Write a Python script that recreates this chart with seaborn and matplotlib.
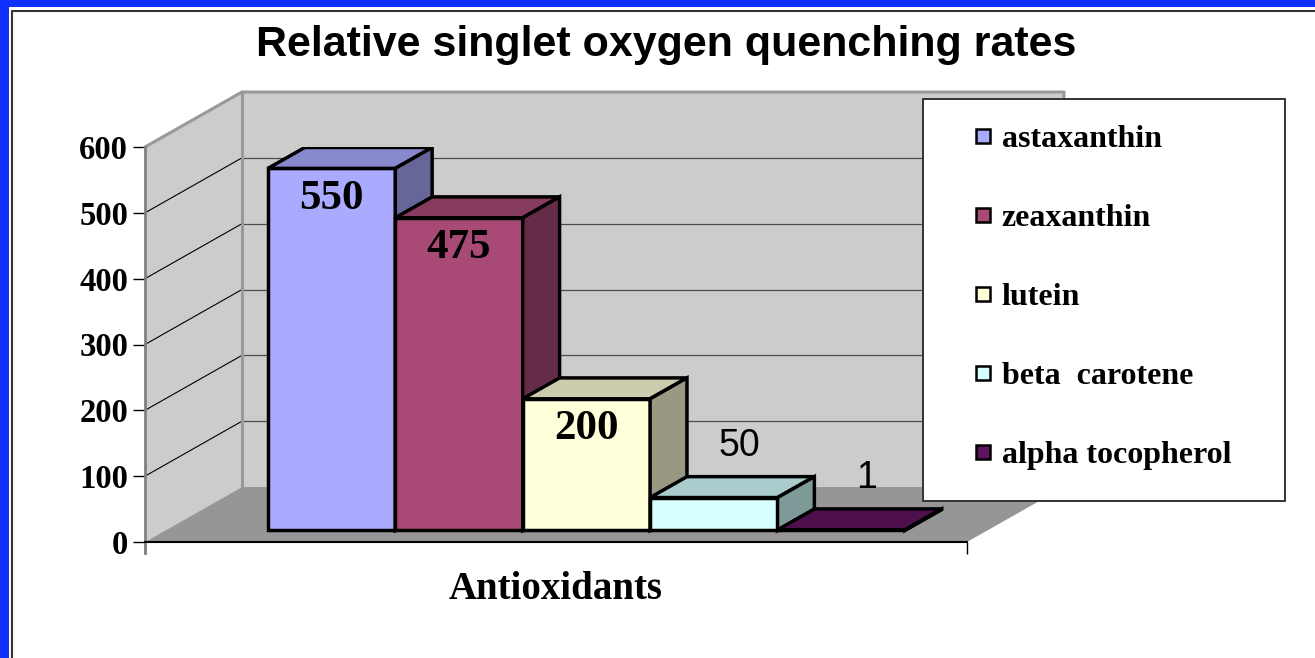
import matplotlib
matplotlib.use("Agg")
import matplotlib.pyplot as plt
import matplotlib.colors as mcolors
from matplotlib.patches import Polygon, Rectangle
from matplotlib.lines import Line2D
import seaborn as sns

# Data
antioxidants = ["astaxanthin", "zeaxanthin", "lutein", "beta  carotene", "alpha tocopherol"]
quench_rates = [550, 475, 200, 50, 1]
y_ticks = [0, 100, 200, 300, 400, 500, 600]
chart_title = "Relative singlet oxygen quenching rates"
x_title = "Antioxidants"

# Styles
front_colors = ["#AAAAFF", "#A94A76", "#FFFFDA", "#D6FFFF", "#601460"]
SERIF = "Liberation Serif"
SANS = "Liberation Sans"

W, H = 1315, 658

# 3D look: depth of the floor in data units, bars sit between D0 and D1
XMIN, XMAX = -1.305, 5.147
YMAX = 600
DX, DY = 0.761, 83.5
D0, D1 = 0.21, 0.59


def shade(color, f):
    r, g, b = mcolors.to_rgb(color)
    return (r * f, g * f, b * f)


sns.set_style("white")
plt.rcParams.update({"text.color": "black", "axes.labelcolor": "black",
                     "xtick.color": "black", "ytick.color": "black"})
fig = plt.figure(figsize=(W / 100, H / 100), dpi=100)
ax = fig.add_axes([145 / W, 1 - 542 / H, 822 / W, 395 / H])

# front faces of the bars
sns.barplot(x=antioxidants, y=quench_rates, hue=antioxidants, palette=front_colors,
            width=1.0, dodge=False, saturation=1, legend=False,
            edgecolor="black", linewidth=2.5, ax=ax)
bars = list(ax.patches)

ax.set_xlim(XMIN, XMAX)
ax.set_ylim(0, YMAX)

# walls and floor
wall = "#CCCCCC"
ax.add_patch(Polygon([(XMIN, 0), (XMIN, YMAX), (XMIN + DX, YMAX + DY), (XMIN + DX, DY)],
                     fc=wall, ec="none", zorder=0.5, clip_on=False))
ax.add_patch(Rectangle((XMIN + DX, DY), XMAX - XMIN, YMAX, fc=wall, ec="none",
                       zorder=0.5, clip_on=False))
ax.add_patch(Polygon([(XMIN, 0), (XMAX, 0), (XMAX + DX, DY), (XMIN + DX, DY)],
                     fc="#969696", ec="none", zorder=0.55, clip_on=False))
for v in y_ticks[1:-1]:
    ax.add_line(Line2D([XMIN + DX, XMAX + DX], [v + DY, v + DY], color="#4d4d4d",
                       lw=0.9, zorder=0.6, clip_on=False))
    ax.add_line(Line2D([XMIN, XMIN + DX], [v, v + DY], color="black",
                       lw=0.8, zorder=0.6, clip_on=False))
edge = "#999999"
ax.add_line(Line2D([XMIN, XMIN + DX, XMAX + DX, XMAX + DX],
                   [YMAX, YMAX + DY, YMAX + DY, DY], color=edge, lw=2.2,
                   zorder=0.7, clip_on=False))
ax.add_line(Line2D([XMIN + DX, XMIN + DX], [DY, YMAX + DY], color=edge, lw=2.2,
                   zorder=0.7, clip_on=False))

# shift bars back and add top / side faces
bx, by = (D1 - D0) * DX, (D1 - D0) * DY
for i, (p, v, c) in enumerate(zip(bars, quench_rates, front_colors)):
    p.set_x(p.get_x() + D0 * DX)
    p.set_y(p.get_y() + D0 * DY)
    p.set_zorder(2 + i)
    p.set_joinstyle("miter")
    x0, x1 = p.get_x(), p.get_x() + p.get_width()
    y0, y1 = p.get_y(), p.get_y() + p.get_height()
    top = Polygon([(x0, y1), (x1, y1), (x1 + bx, y1 + by), (x0 + bx, y1 + by)],
                  fc=shade(c, 0.8), ec="black", lw=2.5, joinstyle="miter", zorder=2 + i + 0.1)
    side = Polygon([(x1, y0), (x1, y1), (x1 + bx, y1 + by), (x1 + bx, y0 + by)],
                   fc=shade(c, 0.6), ec="black", lw=2.5, joinstyle="miter", zorder=2 + i + 0.2)
    ax.add_patch(top)
    ax.add_patch(side)
    xc = p.get_x() + p.get_width() / 2
    if v >= 150:
        ax.annotate(str(v), (xc, y1), xytext=(0, -22), textcoords="offset points",
                    ha="center", va="center", fontsize=31, fontweight="bold",
                    family=SERIF, zorder=50)
    else:
        ax.annotate(str(v), (xc + bx * 0.7, v + D1 * DY), xytext=(0, 9),
                    textcoords="offset points", ha="center", va="bottom",
                    fontsize=27, family=SANS, zorder=50, annotation_clip=False)

# axes
for s in ["top", "right"]:
    ax.spines[s].set_visible(False)
ax.spines["left"].set_color("#808080")
ax.spines["left"].set_linewidth(2)
ax.spines["left"].set_bounds(-17, YMAX)
ax.spines["bottom"].set_color("black")
ax.spines["bottom"].set_linewidth(1.5)
ax.spines["left"].set_zorder(10)
ax.spines["bottom"].set_zorder(10)
ax.set_yticks(y_ticks)
ax.set_yticklabels([str(t) for t in y_ticks], fontsize=23.5, fontweight="bold", family=SERIF)
ax.tick_params(axis="y", direction="out", length=8.6, width=1, color="black", pad=3.6, left=True)
ax.set_xticks([XMIN, XMAX])
ax.set_xticklabels(["", ""])
ax.tick_params(axis="x", direction="out", length=8.6, width=1, color="black", bottom=True)
ax.set_xlabel(x_title, fontsize=28, fontweight="bold", family=SERIF, labelpad=9)
ax.set_ylabel("")
ax.set_facecolor("none")

fig.text(666 / W, 1 - 45 / H, chart_title, ha="center", va="center",
         fontsize=31, fontweight="bold", family=SANS)

# legend box + entries
fig.add_artist(Rectangle((923 / W, 1 - 501 / H), (1285 - 923) / W, (501 - 99) / H,
                         transform=fig.transFigure, fc="white", ec="#333333", lw=1.4, zorder=3))
handles = [Line2D([], [], marker="s", ls="none", markersize=10, mfc=c, mec="black", mew=1.8)
           for c in front_colors]
fig.legend(handles, antioxidants, loc="upper left", bbox_to_anchor=(973 / W, 1 - 125 / H),
           bbox_transform=fig.transFigure, frameon=False, borderpad=0, borderaxespad=0,
           handlelength=0.6, handletextpad=0.3, labelspacing=1.55,
           prop={"family": SERIF, "weight": "bold", "size": 23}).set_zorder(4)

# slide frame
blue = "#1030FF"
fig.add_artist(Rectangle((0, 0), 9 / W, 1, transform=fig.transFigure, fc=blue, ec="none", zorder=6))
fig.add_artist(Rectangle((0, 1 - 7 / H), 1, 7 / H, transform=fig.transFigure, fc=blue, ec="none", zorder=6))
fig.add_artist(Line2D([11.5 / W, 11.5 / W, 1], [0, 1 - 10.5 / H, 1 - 10.5 / H],
                      transform=fig.transFigure, color="#333333", lw=1.5, zorder=6))

fig.savefig("out.png", dpi=100)
